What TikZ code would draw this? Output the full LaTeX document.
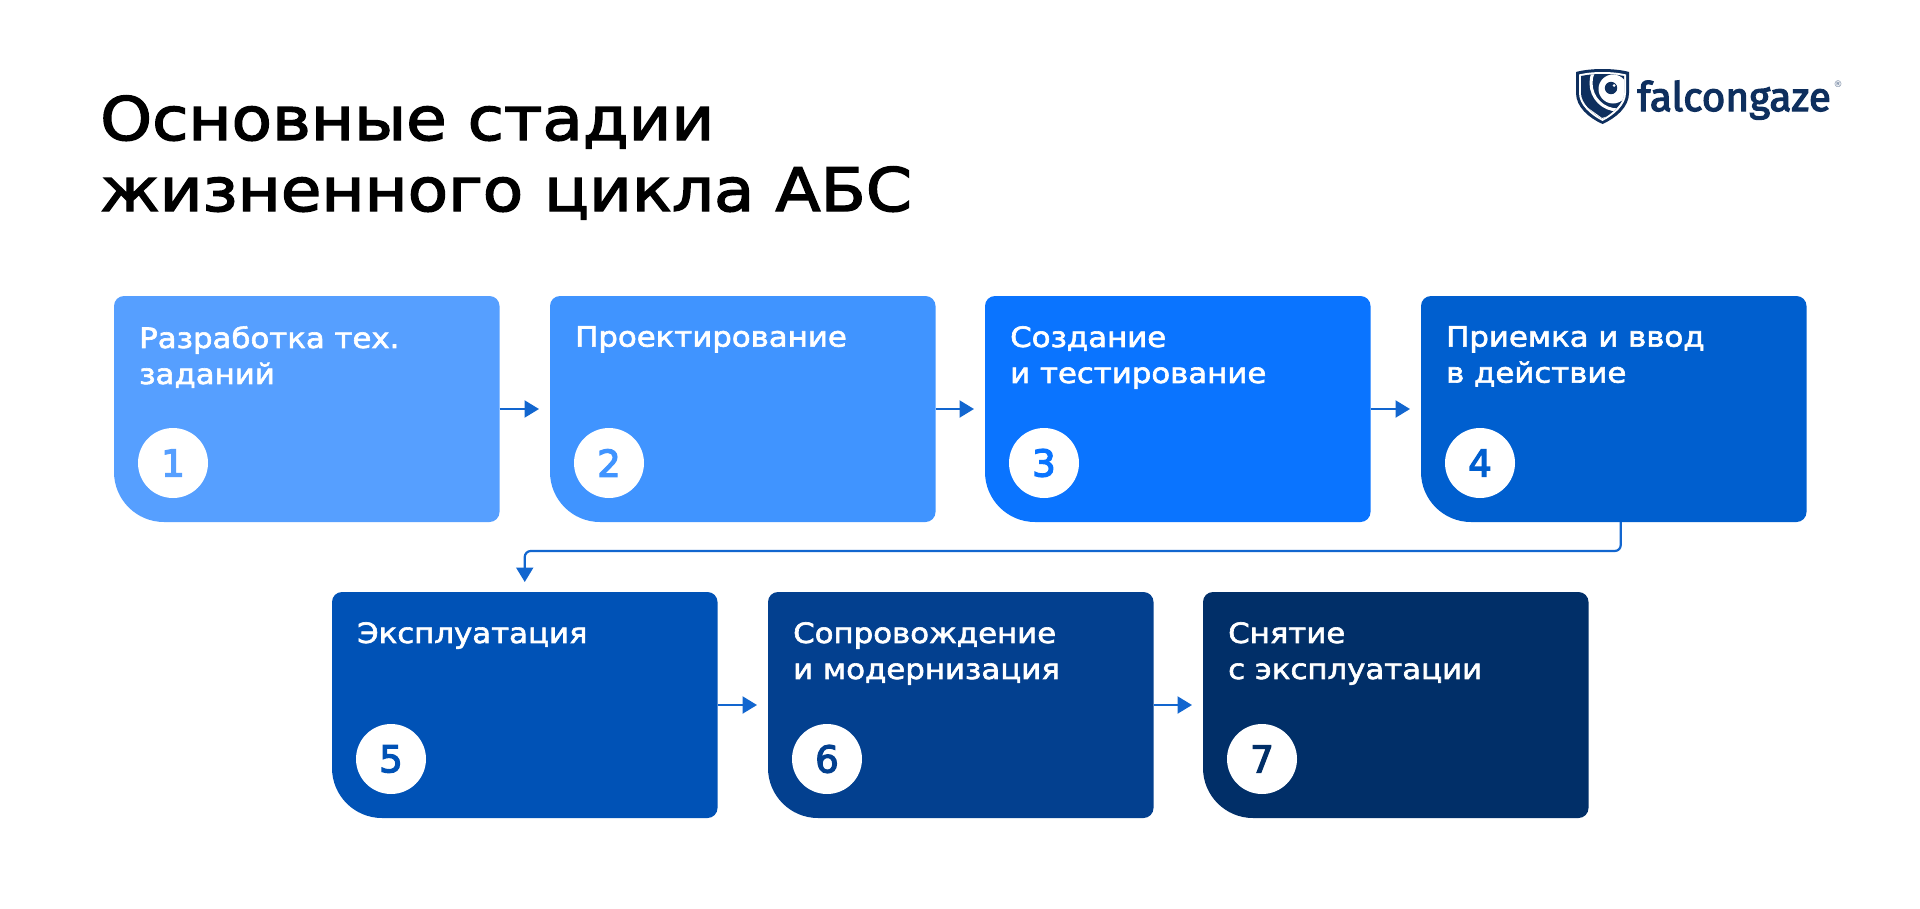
\documentclass[tikz,border=0pt]{standalone}
\usepackage{fontspec}
\setmainfont{DejaVu Sans}
\newfontfamily\titlefont[FakeBold=2.4,FakeStretch=1.1]{DejaVu Sans}
\newfontfamily\cardfont[FakeBold=2.2,FakeStretch=1.1]{DejaVu Sans}
\newfontfamily\numfont[FakeBold=3.5]{DejaVu Sans}
\newfontfamily\logofont[FakeBold=3]{Fira Sans}
\usetikzlibrary{arrows.meta,calc}
\definecolor{cone}{HTML}{569FFF}
\definecolor{ctwo}{HTML}{4094FF}
\definecolor{cthree}{HTML}{0A74FF}
\definecolor{cfour}{HTML}{005FCF}
\definecolor{cfive}{HTML}{0052B6}
\definecolor{csix}{HTML}{03408F}
\definecolor{cseven}{HTML}{012F68}
\definecolor{link}{HTML}{1266CF}
\definecolor{navy}{HTML}{0E2F5E}
\tikzset{
  x=1pt,y=-1pt,
  cardbox/.style={minimum width=385.5pt,minimum height=226pt,inner sep=0pt,outer sep=0pt},
  cardtext/.style={text=white,anchor=north west,inner sep=0pt,align=left,font=\fontsize{28}{36}\selectfont\cardfont},
  badge/.style={circle,fill=white,minimum size=70pt,inner sep=0pt,font=\fontsize{37}{37}\selectfont\numfont},
  flow/.style={draw=link,line width=2.2pt,-{Triangle[length=14.5pt,width=17pt]}},
}
\newcommand{\card}[5]{% name, left, top, colour, text (number follows)
  \node[cardbox,anchor=north west] (#1) at (#2,#3) {};
  \fill[#4]
     (#1.west) [rounded corners=50pt] -- (#1.south west) -- (#1.south)
     [rounded corners=10pt] -- (#1.south east) -- (#1.north east) -- (#1.north west) -- cycle;
  \node[cardtext] (#1t) at ($(#1.north west)+(25,30)$) {#5};
  \cardnum{#1}{#4}%
}
\newcommand{\cardnum}[3]{\node[badge,text=#2] (#1n) at ($(#1.north west)+(59,167)$) {#3};}
\begin{document}
\begin{tikzpicture}
\useasboundingbox[fill=white] (0,0) rectangle (1920,908);
\node[anchor=base west,inner sep=0pt,font=\fontsize{60}{71}\selectfont\titlefont,align=left] (title) at (100,140) {Основные стадии};
\node[anchor=base west,inner sep=0pt,font=\fontsize{60}{71}\selectfont\titlefont] (title2) at (100,211) {жизненного цикла АБС};
\card{a}{114}{296}{cone}{Разработка тех.\\заданий}{1}
\card{b}{550}{296}{ctwo}{Проектирование}{2}
\card{c}{985}{296}{cthree}{Создание\\и тестирование}{3}
\card{d}{1421}{296}{cfour}{Приемка и ввод\\в действие}{4}
\card{e}{332}{592}{cfive}{Эксплуатация}{5}
\card{f}{768}{592}{csix}{Сопровождение\\и модернизация}{6}
\card{g}{1203}{592}{cseven}{Снятие\\с эксплуатации}{7}
\draw[flow,shorten >=11pt] (a.east) -- (b.west);
\draw[flow,shorten >=11pt] (b.east) -- (c.west);
\draw[flow,shorten >=11pt] (c.east) -- (d.west);
\draw[flow,shorten >=11pt] (e.east) -- (f.west);
\draw[flow,shorten >=11pt] (f.east) -- (g.west);
\coordinate (turnr) at ($(d.south)+(7,29)$);
\draw[flow,rounded corners=6pt,shorten >=10pt] ($(d.south)+(7,0)$) -- (turnr) -- (turnr -| e.north) -- (e.north);
% logo
\begin{scope}[shift={(1576,69)}]
\fill[navy] (26.5,0) .. controls (36,0) and (46,1) .. (53,3) -- (53,24) .. controls (53,38) and (40,49) .. (26.5,55) .. controls (13,49) and (0,38) .. (0,24) -- (0,3) .. controls (7,1) and (17,0) .. (26.5,0) -- cycle;
\fill[white] (26.5,3) .. controls (36,3) and (44,4) .. (50,5.5) -- (50,24) .. controls (50,36) and (38,46) .. (26.5,52) .. controls (15,46) and (3,36) .. (3,24) -- (3,5.5) .. controls (9,4) and (17,3) .. (26.5,3) -- cycle;
\begin{scope}
\clip (26.5,5) .. controls (36,5) and (43,6) .. (48,7) -- (48,24) .. controls (48,34) and (37,44) .. (26.5,50) .. controls (16,44) and (5,34) .. (5,24) -- (5,7) .. controls (10,6) and (17,5) .. (26.5,5) -- cycle;
\fill[navy] (0,0) rectangle (53,55);
\fill[white] (37,20) circle (14.5);
\fill[white] (37,12) -- (53,14) -- (53,30) -- (37,33) -- cycle;
\draw[white,line width=3pt] (42,14) circle (27);
\fill[white] (0,55) -- (53,55) -- (53,41) -- (26,49) -- (8,36) -- cycle;
\end{scope}
\fill[navy] (35,19) circle (6.2);
\fill[white] (38,16.5) circle (1.5);
\end{scope}
\node[anchor=base west,inner sep=0pt,text=navy,font=\fontsize{40.5}{42}\selectfont\logofont] (logo) at (1637,111) {falcongaze};
\node[inner sep=0pt,text=navy!70,font=\fontsize{9}{9}\selectfont] (reg) at (1838,84) {®};
\end{tikzpicture}
\end{document}
